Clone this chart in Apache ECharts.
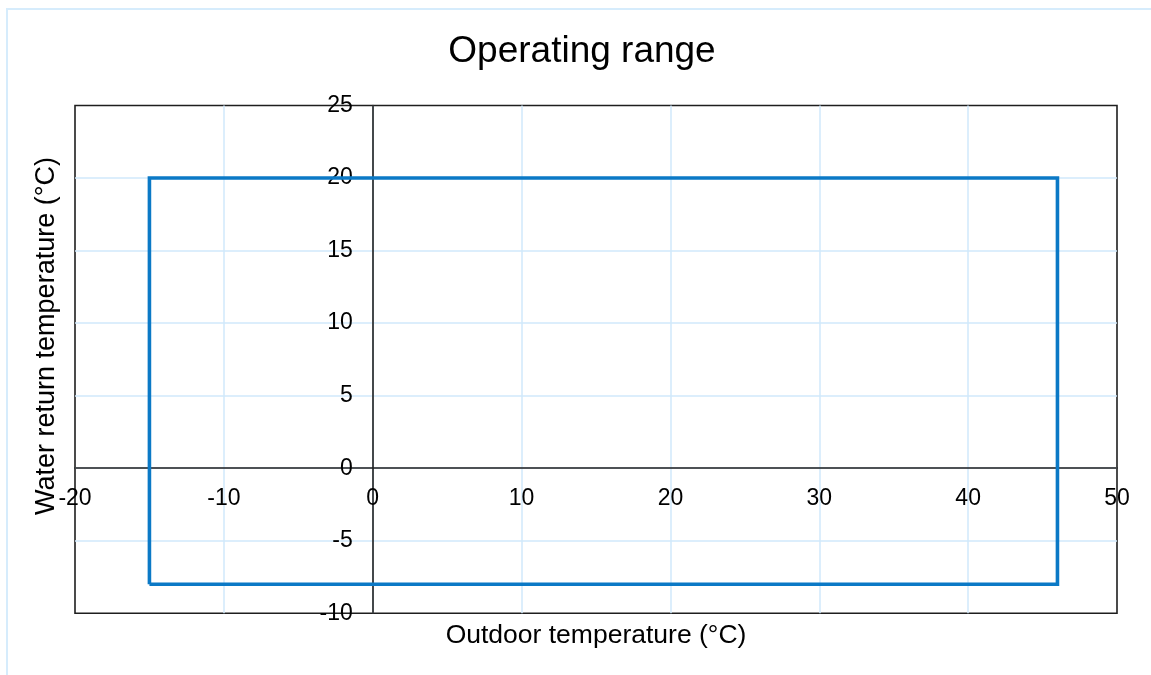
<!DOCTYPE html>
<html>
<head>
<meta charset="utf-8">
<title>Operating range</title>
<script src="https://cdn.jsdelivr.net/npm/echarts@6/dist/echarts.min.js"></script>
<style>
  html, body { margin: 0; padding: 0; background: #ffffff; }
  #chart { width: 1151px; height: 675px; }
</style>
</head>
<body>
<div id="chart"></div>
<script>
// Operating envelope corners (outdoor °C, water return °C), closed polygon
const outdoorTemps = [-15, -15, 46, 46, -15];
const returnTemps = [-8, 20, 20, -8, -8];

// Axis ranges and tick steps
const xRange = [-20, 50];
const xStep = 10;
const yRange = [-10, 25];
const yStep = 5;

const titleText = 'Operating range';
const xName = 'Outdoor temperature (°C)';
const yName = 'Water return temperature (°C)';

const FONT = '"Liberation Sans", Arial, sans-serif';
const GRID_BLUE = '#d0e8fb';
const AXIS_BLACK = '#1e1e1e';

const envelope = outdoorTemps.map((x, i) => [x, returnTemps[i]]);

const chart = echarts.init(document.getElementById('chart'), null, { renderer: 'canvas' });

const GRID = { left: 75, right: 34, top: 105.5, bottom: 61.7 };

function axisCommon(range, step) {
  return {
    type: 'value',
    min: range[0], max: range[1], interval: step,
    axisLine: { show: true, onZero: false, lineStyle: { color: AXIS_BLACK, width: 1.6 } },
    axisTick: { show: false },
    splitLine: { show: true, showMinLine: false, showMaxLine: false, lineStyle: { color: GRID_BLUE, width: 1.5 } }
  };
}

chart.setOption({
  animation: false,
  backgroundColor: '#ffffff',
  textStyle: { fontFamily: FONT },
  grid: {
    left: GRID.left, right: GRID.right, top: GRID.top, bottom: GRID.bottom,
    show: true, borderColor: AXIS_BLACK, borderWidth: 1.6, backgroundColor: 'transparent'
  },
  graphic: [
    {
      type: 'rect', z: -10, silent: true,
      shape: { x: 7, y: 9, width: 1200, height: 700 },
      style: { fill: 'none', stroke: '#d6ecfc', lineWidth: 2 }
    },
    {
      type: 'text', silent: true,
      x: 582, y: 52,
      style: { text: titleText, font: '37px ' + FONT, fill: '#000', align: 'center', verticalAlign: 'middle' }
    },
    {
      type: 'text', silent: true,
      x: 596, y: 636,
      style: { text: xName, font: '26.5px ' + FONT, fill: '#000', align: 'center', verticalAlign: 'middle' }
    },
    {
      type: 'text', silent: true,
      x: 47, y: 336, rotation: Math.PI / 2,
      style: { text: yName, font: '27px ' + FONT, fill: '#000', align: 'center', verticalAlign: 'middle' }
    }
  ],
  xAxis: Object.assign(axisCommon(xRange, xStep), {
    position: 'bottom',
    axisLabel: { fontSize: 23, color: '#000', margin: 19, fontFamily: FONT, hideOverlap: false }
  }),
  yAxis: Object.assign(axisCommon(yRange, yStep), {
    position: 'left',
    axisLabel: { fontSize: 23, color: '#000', margin: 20, fontFamily: FONT, hideOverlap: false }
  }),
  series: [
    {
      type: 'line',
      data: envelope,
      showSymbol: false,
      symbol: 'none',
      lineStyle: { color: '#0b79c6', width: 3.6, join: 'miter' },
      itemStyle: { color: '#0b79c6' },
      z: 3
    }
  ]
});

// Move both axes (line and labels) onto the zero crossing, using the chart's own scales
const origin = chart.convertToPixel({ gridIndex: 0 }, [0, 0]);
const corner = chart.convertToPixel({ gridIndex: 0 }, [xRange[0], yRange[0]]);
chart.setOption({
  xAxis: { offset: -(corner[1] - origin[1]) },
  yAxis: { offset: -(origin[0] - corner[0]) }
});
</script>
</body>
</html>
